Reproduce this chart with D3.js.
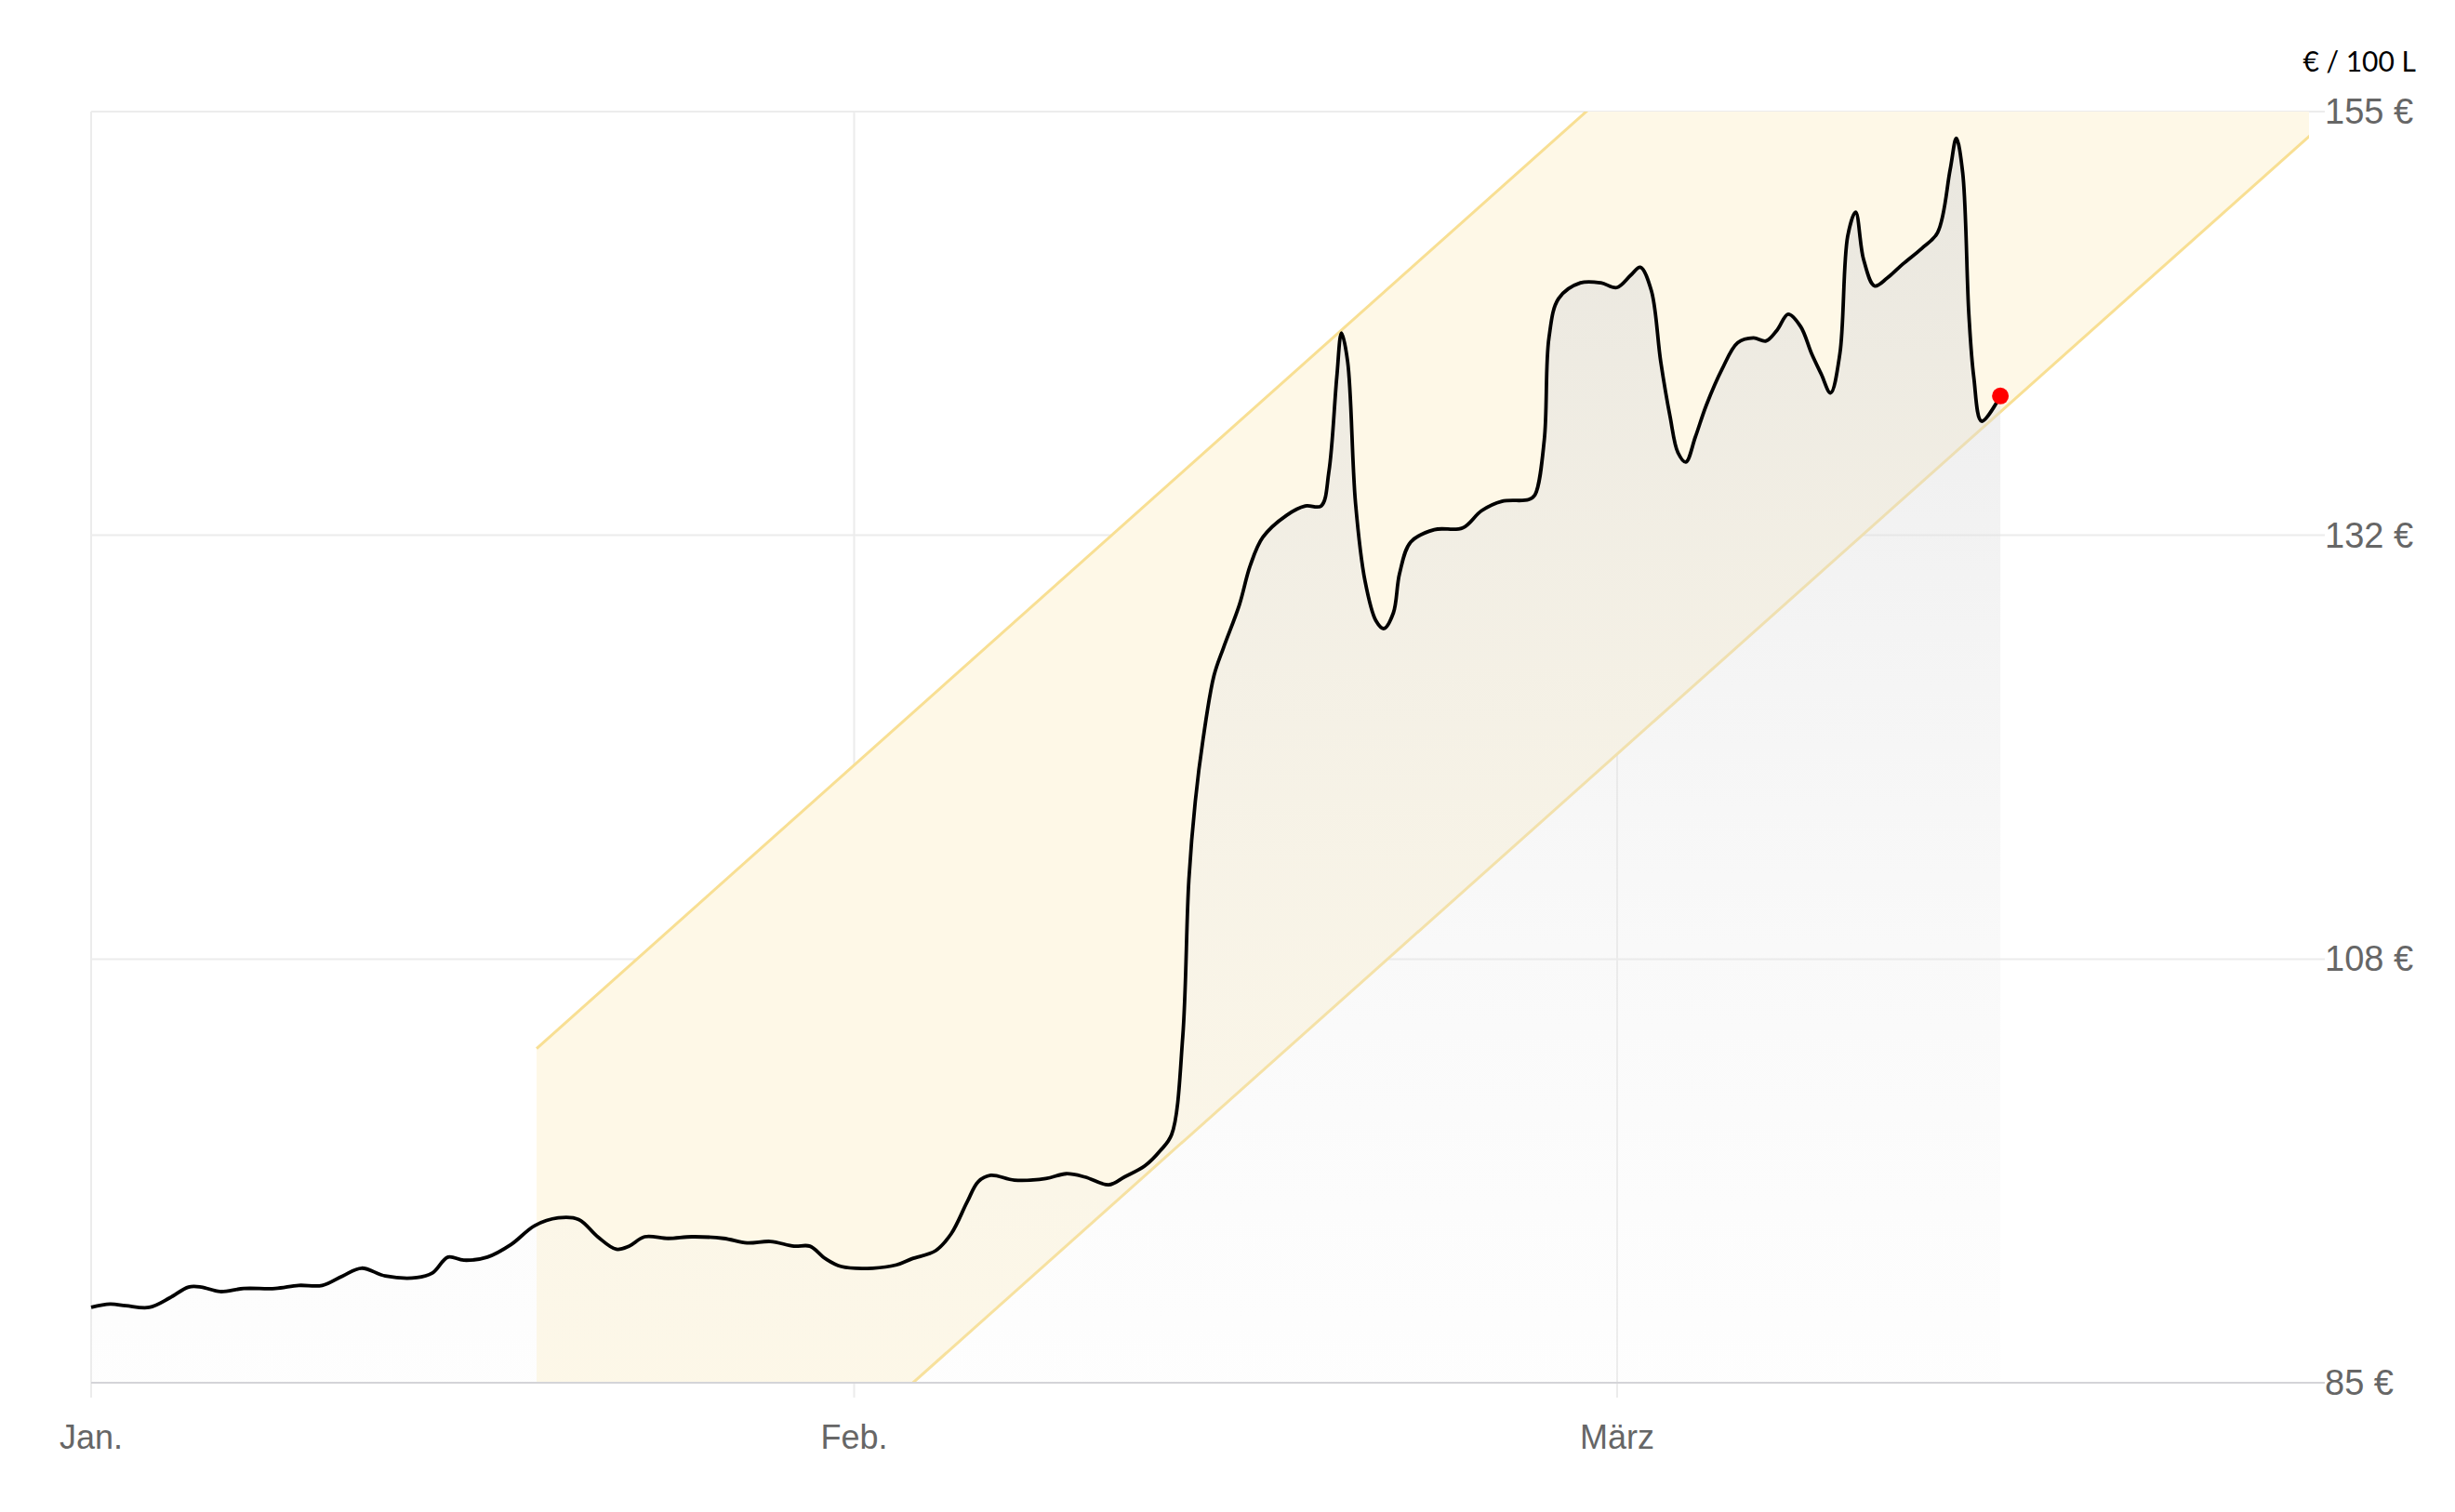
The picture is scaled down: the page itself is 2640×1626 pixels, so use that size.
<!DOCTYPE html>
<html><head><meta charset="utf-8">
<script src="https://cdn.jsdelivr.net/npm/d3@7"></script>
<style>body{margin:0;background:#fff}svg{display:block;font-family:"Liberation Sans",Arial,sans-serif}</style>
</head><body><svg width="2640" height="1626"></svg>
<script>
// day index since 1 Jan (month ticks are evenly spaced on this chart)
const days = [0,.77,1.41,2.36,3.19,3.96,4.47,5.24,6.2,7.48,8.43,9.39,10.22,10.99,11.95,13.23,13.87,14.5,15.14,16.1,17.06,18.02,18.98,19.81,20.58,21.34,21.85,22.49,23.45,24.41,25.69,26.65,27.6,28.56,29.2,29.84,30.48,31.76,32.72,33.35,34.31,34.95,35.59,36.04,36.55,37.51,38.79,39.62,40.38,41.34,41.98,42.81,43.45,43.9,44.35,44.6,44.86,45.18,45.62,46.01,46.65,47.09,47.6,48.56,49.33,49.97,50.29,50.61,50.8,51.05,51.37,51.76,52.2,52.52,52.91,53.16,53.61,54.57,55.72,56.49,57.32,58.4,58.66,59.04,59.23,59.62,60.51,61.34,61.98,62.56,62.94,63.39,63.77,64.15,64.47,64.79,65.18,65.62,66.26,66.9,67.54,68.05,68.5,68.95,69.46,69.9,70.29,70.67,71.05,71.37,71.69,72.01,72.46,72.97,73.61,74.38,75.02,75.53,75.78,76.04,76.29,76.49,76.81,77.57];
const prices = [89.15,89.33,89.24,89.15,89.67,90.27,90.27,90.02,90.19,90.19,90.36,90.36,90.88,91.31,90.88,90.79,91.05,91.92,91.75,91.92,92.61,93.65,94.08,93.99,93.04,92.35,92.52,93.04,92.95,93.04,92.95,92.7,92.78,92.52,92.52,91.83,91.4,91.31,91.49,91.83,92.27,93.22,94.95,96.07,96.42,96.16,96.25,96.51,96.33,95.9,96.33,96.94,97.8,98.67,104.03,112.69,117.01,120.47,123.94,125.49,127.83,129.99,131.55,132.76,133.28,133.28,135.18,140.38,142.8,141.24,133.45,129.13,126.96,126.53,127.4,129.56,131.29,131.98,132.07,133.02,133.54,133.63,133.89,136.92,142.54,144.7,145.57,145.57,145.31,146,146.43,145.14,141.24,138.21,136.22,135.7,137.09,138.82,140.81,142.28,142.54,142.37,142.97,143.84,143.15,141.67,140.55,139.51,141.67,148.16,149.46,146.87,145.4,145.83,146.61,147.47,148.34,151.8,153.53,151.63,143.84,140.38,137.95,139.34];
const monthTicks = [0, 31, 62];
const monthLabels = ["Jan.", "Feb.", "März"];
const yTicks = [85, 108.33, 131.67, 155];
// trend channel: start day, end day, upper/lower value at start, slope per day
const bandDays = [18.1, 91];
const bandUpperStart = 103.4, bandLowerStart = 66.5, bandSlope = 1.21;

const svg = d3.select("svg");
const L = 98, R = 2483, T = 120, B = 1487;
const x = d3.scaleLinear().domain([0, 62]).range([L, 1739]);
const y = d3.scaleLinear().domain([85, 155]).range([B, T]);

const defs = svg.append("defs");
defs.append("clipPath").attr("id", "plot").append("rect")
  .attr("x", L).attr("y", T).attr("width", R - L).attr("height", B - T);
const grad = defs.append("linearGradient").attr("id", "g").attr("x1", 0).attr("y1", 0).attr("x2", 0).attr("y2", 1);
grad.append("stop").attr("offset", "0%").attr("stop-color", "#d8d8d8").attr("stop-opacity", 0.55);
grad.append("stop").attr("offset", "100%").attr("stop-color", "#f0f0f0").attr("stop-opacity", 0.1);

// grid
svg.selectAll(".hg").data(yTicks.slice(1)).join("line")
  .attr("x1", L).attr("x2", 2500).attr("y1", d => y(d)).attr("y2", d => y(d))
  .attr("stroke", "#ececec").attr("stroke-width", 2);
svg.selectAll(".vg").data(monthTicks).join("line")
  .attr("x1", d => x(d)).attr("x2", d => x(d)).attr("y1", T).attr("y2", B + 16)
  .attr("stroke", "#ececec").attr("stroke-width", 2);

// channel
const bandPts = bandDays.map(d => ({ d, lo: bandLowerStart + bandSlope * (d - bandDays[0]), hi: bandUpperStart + bandSlope * (d - bandDays[0]) }));
const gBand = svg.append("g").attr("clip-path", "url(#plot)");
gBand.append("path").datum(bandPts)
  .attr("d", d3.area().x(p => x(p.d)).y0(p => y(p.lo)).y1(p => y(p.hi)))
  .attr("fill", "#fef8e7");

// area under line
const pts = days.map((d, i) => ({ d, v: prices[i] }));
const curve = d3.curveCatmullRom.alpha(0.5);
svg.append("path").datum(pts)
  .attr("d", d3.area().x(p => x(p.d)).y0(B).y1(p => y(p.v)).curve(curve))
  .attr("fill", "url(#g)");

["lo", "hi"].forEach(k => {
  gBand.append("path").datum(bandPts)
    .attr("d", d3.line().x(p => x(p.d)).y(p => y(p[k])))
    .attr("fill", "none").attr("stroke", "#f8df93").attr("stroke-width", 3);
});

// axis line
svg.append("line").attr("x1", L).attr("x2", 2500).attr("y1", B).attr("y2", B)
  .attr("stroke", "#d4d4d8").attr("stroke-width", 2);

// price line
svg.append("path").datum(pts)
  .attr("d", d3.line().x(p => x(p.d)).y(p => y(p.v)).curve(curve))
  .attr("fill", "none").attr("stroke", "#000").attr("stroke-width", 3.8);
const last = pts[pts.length - 1];
svg.append("circle").attr("cx", x(last.d)).attr("cy", y(last.v)).attr("r", 9).attr("fill", "#f00");

// labels
svg.selectAll(".xl").data(monthTicks).join("text")
  .attr("x", d => x(d)).attr("y", 1558).attr("text-anchor", "middle")
  .attr("font-size", 36).attr("fill", "#666").text((d, i) => monthLabels[i]);
svg.selectAll(".yl").data(yTicks).join("text")
  .attr("x", 2500).attr("y", d => y(d) + 13)
  .attr("font-size", 38).attr("fill", "#666").text(d => Math.round(d) + " €");
svg.append("text").attr("x", 2598).attr("y", 77).attr("text-anchor", "end")
  .attr("font-size", 30).attr("fill", "#000").style("font-family", "Lato, 'Open Sans', sans-serif").text("€ / 100 L");
</script></body></html>
